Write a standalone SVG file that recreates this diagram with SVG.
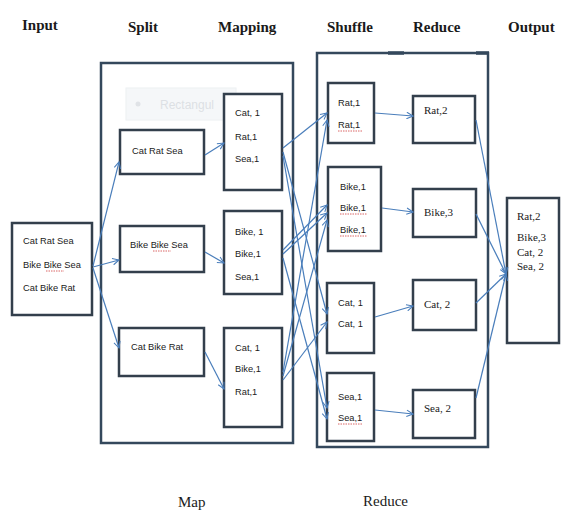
<svg xmlns="http://www.w3.org/2000/svg" width="562" height="514" viewBox="0 0 562 514">
<defs>
<style>
.bg{fill:#ffffff}
.big{fill:none;stroke:#34485c;stroke-width:2.5}
.box{fill:#ffffff;stroke:#333f4c;stroke-width:2.5}
.hd{font-family:"Liberation Serif",serif;font-weight:bold;font-size:15px;fill:#1a1a1a}
.ft{font-family:"Liberation Serif",serif;font-size:15px;fill:#1a1a1a}
.t{font-family:"Liberation Sans",Arial,sans-serif;font-size:9.3px;fill:#1a1a1a}
.s{font-family:"Liberation Serif",serif;font-size:11px;fill:#1a1a1a}
.c{fill:none;stroke:#4a7ebb;stroke-width:1.2}
.sq{fill:none;stroke:#d04040;stroke-width:0.8;stroke-dasharray:1.5 1}
</style>
<marker id="arr" viewBox="0 0 10 10" refX="9" refY="5" markerWidth="8" markerHeight="8" orient="auto" markerUnits="userSpaceOnUse">
<path d="M1,1 L9,5 L1,9" fill="none" stroke="#4a7ebb" stroke-width="1.3"/>
</marker>
</defs>
<rect class="bg" x="0" y="0" width="562" height="514"/>

<g id="headings">
<text class="hd" x="22" y="30">Input</text>
<text class="hd" x="128" y="32">Split</text>
<text class="hd" x="218" y="32">Mapping</text>
<text class="hd" x="327" y="32">Shuffle</text>
<text class="hd" x="413" y="32">Reduce</text>
<text class="hd" x="508" y="32">Output</text>
<text class="ft" x="178" y="507">Map</text>
<text class="ft" x="363" y="506">Reduce</text>
</g>

<g id="map-group">
<rect class="big" x="101" y="63" width="192" height="380"/>
</g>
<g id="reduce-group">
<rect class="big" x="317" y="53" width="171" height="394"/>
<line x1="388" y1="53" x2="404" y2="53" stroke="#34485c" stroke-width="3.5"/>
<line x1="476" y1="53" x2="489" y2="53" stroke="#34485c" stroke-width="3.5"/>
</g>

<g id="snip" opacity="0.9">
<rect x="126" y="88" width="110" height="32" fill="#f5f7f9" stroke="#eceff2" stroke-width="1"/>
<circle cx="138" cy="104" r="2.5" fill="#dde1e5"/>
<text x="160" y="109" font-family="Liberation Sans,Arial,sans-serif" font-size="12" fill="#d9dde2">Rectangul</text>
</g>

<g id="input">
<rect class="box" x="12" y="223" width="80" height="92"/>
<text class="t" x="23" y="244">Cat Rat Sea</text>
<text class="t" x="23" y="268">Bike Bike Sea</text>
<text class="t" x="23" y="291">Cat Bike Rat</text>
<path class="sq" d="M46,271 L64,271"/>
</g>

<g id="split1"><rect class="box" x="120" y="130" width="84" height="44"/><text class="t" x="132" y="154">Cat Rat Sea</text></g>
<g id="split2"><rect class="box" x="120" y="226" width="84" height="46"/><text class="t" x="130" y="248">Bike Bike Sea</text><path class="sq" d="M153,251 L171,251"/></g>
<g id="split3"><rect class="box" x="119" y="328" width="85" height="48"/><text class="t" x="131" y="350">Cat Bike Rat</text></g>

<g id="map1"><rect class="box" x="224" y="94" width="58" height="96"/>
<text class="t" x="235" y="116">Cat, 1</text><text class="t" x="235" y="140">Rat,1</text><text class="t" x="235" y="162">Sea,1</text></g>
<g id="map2"><rect class="box" x="224" y="211" width="58" height="83"/>
<text class="t" x="235" y="235">Bike, 1</text><text class="t" x="235" y="257">Bike,1</text><text class="t" x="235" y="280">Sea,1</text></g>
<g id="map3"><rect class="box" x="224" y="328" width="58" height="99"/>
<text class="t" x="235" y="351">Cat, 1</text><text class="t" x="235" y="372">Bike,1</text><text class="t" x="235" y="395">Rat,1</text></g>

<g id="shuf-rat"><rect class="box" x="328" y="83" width="46" height="60"/>
<text class="t" x="338" y="106">Rat,1</text><text class="t" x="338" y="128">Rat,1</text><path class="sq" d="M338,131 L362,131"/></g>
<g id="shuf-bike"><rect class="box" x="328" y="167" width="53" height="84"/>
<text class="t" x="340" y="190">Bike,1</text><text class="t" x="340" y="211">Bike,1</text><text class="t" x="340" y="233">Bike,1</text>
<path class="sq" d="M340,214 L367,214"/><path class="sq" d="M340,236 L367,236"/></g>
<g id="shuf-cat"><rect class="box" x="327" y="283" width="47" height="70"/>
<text class="t" x="338" y="306">Cat, 1</text><text class="t" x="338" y="327">Cat, 1</text></g>
<g id="shuf-sea"><rect class="box" x="327" y="373" width="47" height="68"/>
<text class="t" x="338" y="400">Sea,1</text><text class="t" x="338" y="421">Sea,1</text><path class="sq" d="M338,424 L362,424"/></g>

<g id="red-rat"><rect class="box" x="413" y="96" width="62" height="47"/><text class="s" x="424" y="114">Rat,2</text></g>
<g id="red-bike"><rect class="box" x="413" y="189" width="63" height="48"/><text class="s" x="424" y="216">Bike,3</text></g>
<g id="red-cat"><rect class="box" x="413" y="280" width="63" height="50"/><text class="s" x="424" y="308">Cat, 2</text></g>
<g id="red-sea"><rect class="box" x="413" y="390" width="62" height="48"/><text class="s" x="424" y="412">Sea, 2</text></g>

<g id="output"><rect class="box" x="507" y="198" width="52" height="145"/>
<text class="s" x="517" y="220">Rat,2</text><text class="s" x="517" y="241">Bike,3</text><text class="s" x="517" y="256">Cat, 2</text><text class="s" x="517" y="270">Sea, 2</text></g>

<g id="connectors">
<line class="c" x1="93" y1="266" x2="119" y2="162" marker-end="url(#arr)"/>
<line class="c" x1="93" y1="267" x2="119" y2="260" marker-end="url(#arr)"/>
<line class="c" x1="93" y1="268" x2="119" y2="348" marker-end="url(#arr)"/>
<line class="c" x1="205" y1="155" x2="224" y2="143" marker-end="url(#arr)"/>
<line class="c" x1="205" y1="252" x2="224" y2="263" marker-end="url(#arr)"/>
<line class="c" x1="205" y1="352" x2="224" y2="389" marker-end="url(#arr)"/>
<line class="c" x1="283" y1="148" x2="327" y2="113" marker-end="url(#arr)"/>
<line class="c" x1="283" y1="152" x2="327" y2="314" marker-end="url(#arr)"/>
<line class="c" x1="283" y1="156" x2="327" y2="408" marker-end="url(#arr)"/>
<line class="c" x1="283" y1="250" x2="327" y2="205" marker-end="url(#arr)"/>
<line class="c" x1="283" y1="254" x2="327" y2="213" marker-end="url(#arr)"/>
<line class="c" x1="283" y1="258" x2="327" y2="419" marker-end="url(#arr)"/>
<line class="c" x1="283" y1="372" x2="327" y2="120" marker-end="url(#arr)"/>
<line class="c" x1="283" y1="376" x2="327" y2="220" marker-end="url(#arr)"/>
<line class="c" x1="283" y1="380" x2="327" y2="322" marker-end="url(#arr)"/>
<line class="c" x1="375" y1="113" x2="413" y2="116" marker-end="url(#arr)"/>
<line class="c" x1="382" y1="208" x2="413" y2="212" marker-end="url(#arr)"/>
<line class="c" x1="375" y1="317" x2="413" y2="306" marker-end="url(#arr)"/>
<line class="c" x1="375" y1="410" x2="413" y2="414" marker-end="url(#arr)"/>
<line class="c" x1="476" y1="120" x2="506" y2="274" marker-end="url(#arr)"/>
<line class="c" x1="476" y1="214" x2="506" y2="274" marker-end="url(#arr)"/>
<line class="c" x1="476" y1="303" x2="506" y2="274" marker-end="url(#arr)"/>
<line class="c" x1="476" y1="398" x2="506" y2="274" marker-end="url(#arr)"/>
</g>
</svg>
